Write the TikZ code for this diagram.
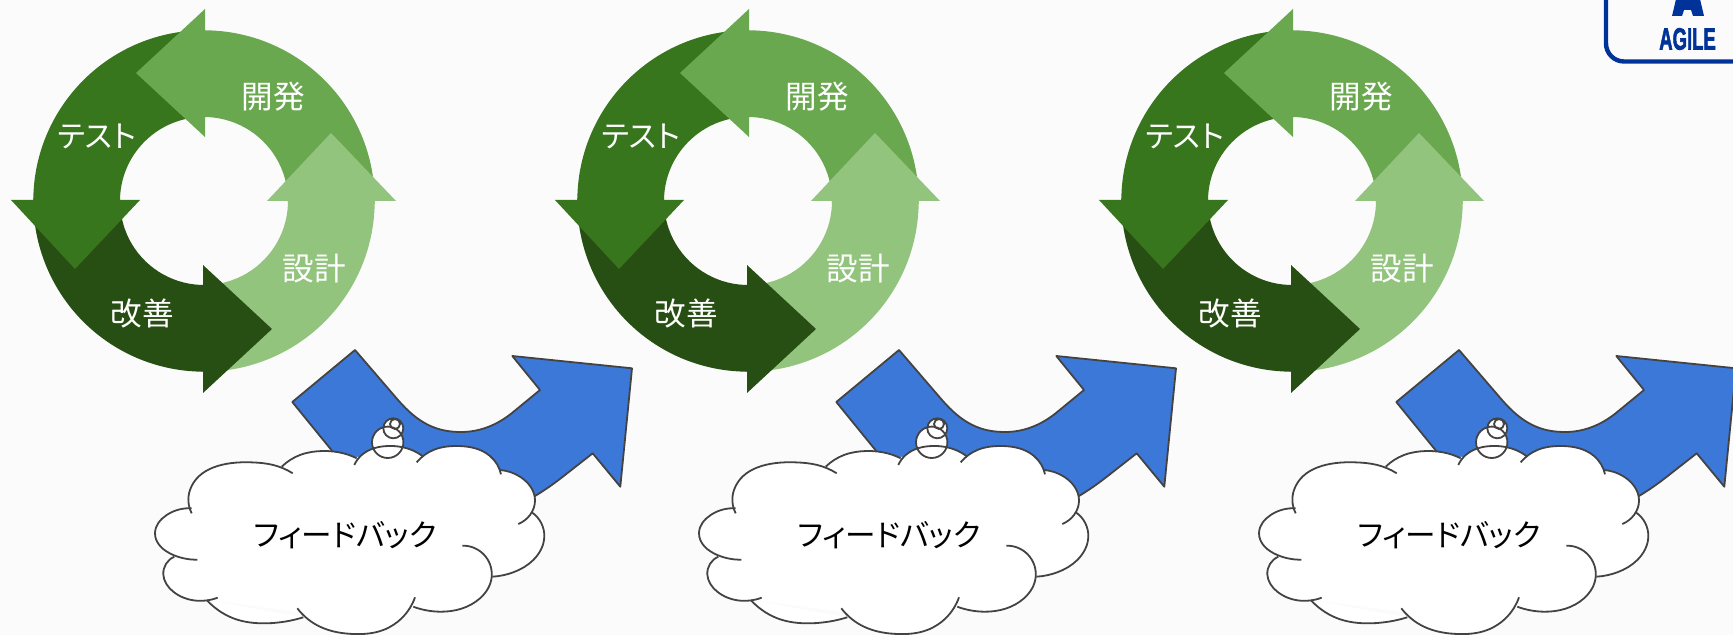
\documentclass[tikz,border=0pt]{standalone}
\usepackage{fontspec}
\usetikzlibrary{hobby}
\setmainfont{Noto Sans CJK JP}[RawFeature=+palt]
\newfontfamily\logofont{Liberation Sans}[BoldFeatures={FakeBold=2.5}]
\definecolor{pagebg}{HTML}{FBFBFB}
\definecolor{devgreen}{HTML}{6AA84F}
\definecolor{designgreen}{HTML}{93C47D}
\definecolor{improvegreen}{HTML}{274E13}
\definecolor{testgreen}{HTML}{38761D}
\definecolor{flowblue}{HTML}{3C78D8}
\definecolor{edgegray}{HTML}{434343}
\definecolor{agileblue}{HTML}{003399}
\tikzset{
  ringlabel/.style={text=white, font=\fontsize{15.8}{18}\selectfont, inner sep=0pt},
  cloudlabel/.style={text=black, font=\fontsize{15.3}{17}\selectfont, inner sep=0pt},
  outline/.style={draw=edgegray, line width=0.9pt},
}
% ring part from angle #1 to angle #2, colour #3
\newcommand{\ringpart}[3]{
  \fill[#3] (#1:170.7) arc[start angle=#1, end angle=#2, radius=170.7]
    -- (#2:84) arc[start angle=#2, end angle=#1, radius=84] -- cycle;
}
% one bump of the cloud, drawn through its points
\newcommand{\cloudbumps}[1]{
  \foreach \bumpa/\bumpb/\bumpc/\bumpd/\bumpe in {
    {(191.7,513.3)}/{(190,490)}/{(250,462.3)}/{(273.3,465)}/{(292.7,473.3)},
    {(281.7,466.7)}/{(300,455)}/{(323.3,451)}/{(343.3,453.3)}/{(356.7,458.3)},
    {(354.3,465)}/{(361.7,455)}/{(388.3,446)}/{(411.7,450)}/{(423.3,456.7)},
    {(416.7,462.3)}/{(433.3,450)}/{(456.7,446)}/{(490,456)}/{(501,474.3)},
    {(500,470)}/{(520,476.7)}/{(535,500)}/{(530,515)}/{(518.3,524)},
    {(531.7,512.3)}/{(544.3,536.7)}/{(533.3,560)}/{(513.3,572.3)}/{(492.3,576.7)},
    {(462.3,545.7)}/{(491.7,576.7)}/{(480,598.3)}/{(440,611.7)}/{(413.3,606.7)},
    {(415,597.3)}/{(383.3,630)}/{(353.3,634)}/{(320,626.7)}/{(297.3,608.3)},
    {(303.3,617.3)}/{(266.7,623.3)}/{(233.3,618.3)}/{(218,610)}/{(206.7,600)},
    {(217.7,597.7)}/{(196.7,600.7)}/{(173.3,591.7)}/{(163.3,574.3)}/{(174.3,556.7)},
    {(197.3,559.7)}/{(173.3,555)}/{(155,533.3)}/{(166.7,515)}/{(191.7,508.3)}} {
    #1 \bumpa .. \bumpb .. \bumpc .. \bumpd .. \bumpe;
  }
}
\def\bubbles{
  (387.7,442.3) circle[radius=15.7]
  (393.3,428.3) circle[radius=10]
  (395,424) circle[radius=5]
}
\begin{document}
\begin{tikzpicture}[x=0.5pt, y=-0.5pt, use Hobby shortcut]
    \useasboundingbox (0,0) rectangle (1733,635);
    \fill[pagebg] (0,0) rectangle (1733,635);
    % one ring, arrow and cloud for each sprint
    \foreach \ringx/\cloudx in {0/0,544/544,1088/1104} {
        \begin{scope}[shift={(\ringx,0)}]
            \begin{scope}[shift={(204,201)}]
                \ringpart{1}{-91}{devgreen}
                \ringpart{91}{-1}{designgreen}
                \ringpart{181}{89}{improvegreen}
                \ringpart{269}{179}{testgreen}
            \end{scope}
            % arrow heads come after all ring parts
            \fill[devgreen] (205,9) -- (205,137) -- (136,73) -- cycle;
            \fill[designgreen] (267,201) -- (396,201) -- (331,133) -- cycle;
            \fill[improvegreen] (203,265) -- (203,393) -- (272,329) -- cycle;
            \fill[testgreen] (11,200) -- (140,200) -- (75,269) -- cycle;
            \node[ringlabel] (dev\ringx) at (273.5,97) {開発};
            \node[ringlabel] (design\ringx) at (314,269) {設計};
            \node[ringlabel] (improve\ringx) at (142,314) {改善};
            \node[ringlabel, font=\fontsize{15.2}{18}\selectfont] (test\ringx) at (97,136) {テスト};
        \end{scope}
        \begin{scope}[shift={(\cloudx,0)}]
            % blue arrow runs on under the cloud
            \draw[outline, fill=flowblue, line join=round] (355,350) -- (398,400)
                .. controls (418,423) and (436,432) .. (461,432)
                .. controls (480,432) and (497,425) .. (512,413) -- (540,390)
                -- (512.3,356) -- (632,368.3) -- (620.3,486.7) -- (592.7,453.3)
                -- (565,475) .. controls (555,483) and (545,490) .. (535,496)
                .. controls (470,535) and (400,530) .. (333,452) -- (292.3,402) -- cycle;
            % fill first, outlines stay visible inside the cloud
            \fill[white] (191.7,513) -- (285,466) -- (356,457) -- (423,455) -- (500,470)
                -- (530,515) -- (492,577) -- (413,606) -- (300,612) -- (207,600) -- (175,556) -- cycle;
            \cloudbumps{\fill[white]}
            \fill[white] \bubbles;
            \cloudbumps{\draw[outline]}
            \draw[outline] \bubbles;
            \node[cloudlabel] (feedback\cloudx) at (345,535) {フィードバック};
        \end{scope}
    }
    % logo at the top right, cut by the page edge
    \draw[agileblue, line width=2.2pt] (1606,-10) -- (1606,43.5)
        arc[start angle=180, end angle=90, radius=18] -- (1745,61.5);
    \fill[agileblue] (1672,16) -- (1677,-5) -- (1699,-5) -- (1704,16) -- (1693,16)
        -- (1691,10) -- (1684,10) -- (1682,16) -- cycle;
    \node[text=agileblue, inner sep=0pt] (agile) at (1687.5,39)
        {\scalebox{0.6}[1]{\logofont\bfseries\fontsize{15.4}{18}\selectfont AGILE}};
\end{tikzpicture}
\end{document}
